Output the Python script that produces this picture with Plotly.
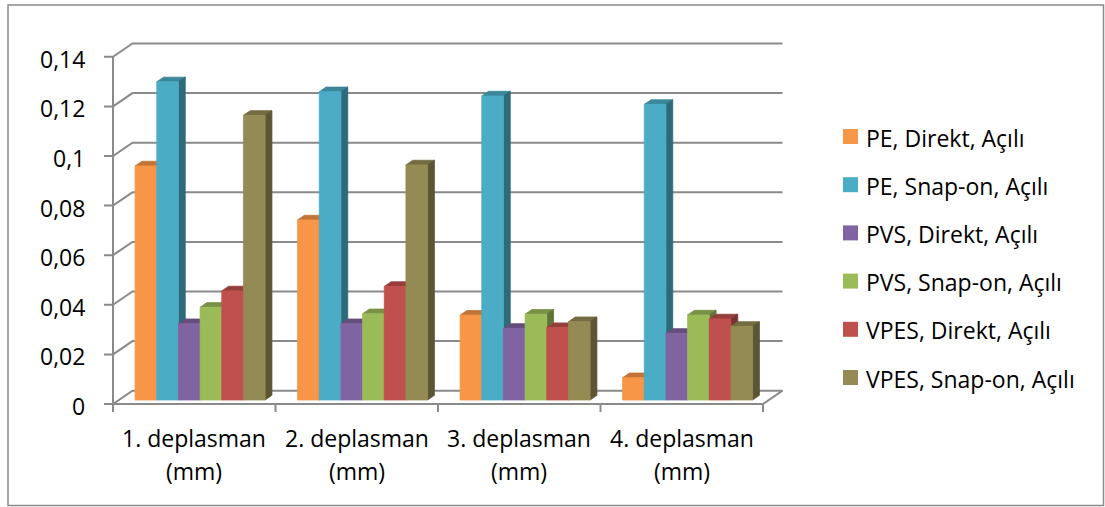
import plotly.graph_objects as go

# ---- data -------------------------------------------------------------
categories = ["1. deplasman", "2. deplasman", "3. deplasman", "4. deplasman"]
category_units = "(mm)"

series_names = [
    "PE, Direkt, Açılı",
    "PE, Snap-on, Açılı",
    "PVS, Direkt, Açılı",
    "PVS, Snap-on, Açılı",
    "VPES, Direkt, Açılı",
    "VPES, Snap-on, Açılı",
]

pe_direkt = [0.0944, 0.0726, 0.0342, 0.0090]
pe_snap = [0.1283, 0.1243, 0.1226, 0.1192]
pvs_direkt = [0.0308, 0.0308, 0.0289, 0.0269]
pvs_snap = [0.0374, 0.0348, 0.0346, 0.0343]
vpes_direkt = [0.0440, 0.0458, 0.0292, 0.0327]
vpes_snap = [0.1148, 0.0948, 0.0316, 0.0297]

series_values = [pe_direkt, pe_snap, pvs_direkt, pvs_snap, vpes_direkt, vpes_snap]

tick_values = [0, 0.02, 0.04, 0.06, 0.08, 0.10, 0.12, 0.14]
tick_labels = ["0", "0,02", "0,04", "0,06", "0,08", "0,1", "0,12", "0,14"]

# ---- styling ----------------------------------------------------------
front_colors = ["#F79646", "#4BACC6", "#8064A2", "#9BBB59", "#C0504D", "#948A54"]
GRID = "#8A8A8A"
FONT = "Open Sans"
FS = 23

W, H = 1105, 507
# page geometry of the plot: front-left axis origin and scales
X0_PX, Y0_PX = 113.0, 404.0
PX_PER_CAT = 162.5
PX_PER_VAL = 2480.0
# oblique depth offset (full depth of the floor)
DX = 19.5 / PX_PER_CAT
DY = 13.3 / PX_PER_VAL
# bar depth slab (fraction of the full depth) and gap width 150 %
D_FRONT, D_BACK = 0.30, 0.65
N_SER = len(series_values)
BAR_W = 1.0 / (N_SER + 1.5)
GAP = 0.75 * BAR_W


def px_x(p):
    return (p - X0_PX) / PX_PER_CAT


def px_y(p):
    return (Y0_PX - p) / PX_PER_VAL


def shade(hex_color, f):
    h = hex_color.lstrip("#")
    r, g, b = (int(h[i:i + 2], 16) for i in (0, 2, 4))
    return "#%02X%02X%02X" % (int(r * f), int(g * f), int(b * f))


fig = go.Figure()

# ---- walls: side-wall diagonals, back-wall gridlines, axis ticks ------
gx, gy = [], []
n_cat = len(categories)
for v in tick_values:
    gx += [-9 / PX_PER_CAT, 0, DX, n_cat + DX, None]
    gy += [v, v, v + DY, v + DY, None]
# front value axis line
gx += [0, 0, None]
gy += [0, tick_values[-1], None]
# floor front edge and right edge
gx += [0, n_cat, n_cat + DX, None]
gy += [0, 0, DY, None]
# category tick marks
for k in range(n_cat + 1):
    gx += [k, k, None]
    gy += [0, -8 / PX_PER_VAL, None]
fig.add_trace(go.Scatter(x=gx, y=gy, mode="lines",
                         line=dict(color=GRID, width=2),
                         hoverinfo="skip", showlegend=False))

# ---- 3D columns ------------------------------------------------------
for j, vals in enumerate(series_values):
    col = front_colors[j]
    tx, ty, sx, sy, fx, fy = [], [], [], [], [], []
    for i, v in enumerate(vals):
        left = i + GAP + j * BAR_W
        right = left + BAR_W
        lf, rf = left + D_FRONT * DX, right + D_FRONT * DX
        lb, rb = left + D_BACK * DX, right + D_BACK * DX
        bf, bb = D_FRONT * DY, D_BACK * DY
        # top face
        tx += [lf, rf, rb, lb, lf, None]
        ty += [v + bf, v + bf, v + bb, v + bb, v + bf, None]
        # right side face
        sx += [rf, rb, rb, rf, rf, None]
        sy += [bf, bb, v + bb, v + bf, bf, None]
        # front face
        fx += [lf, rf, rf, lf, lf, None]
        fy += [bf, bf, v + bf, v + bf, bf, None]
    for xs, ys, c in ((tx, ty, shade(col, 0.78)),
                      (sx, sy, shade(col, 0.62)),
                      (fx, fy, col)):
        fig.add_trace(go.Scatter(x=xs, y=ys, mode="lines", fill="toself",
                                 fillcolor=c, line=dict(color=c, width=0.8),
                                 hoverinfo="skip", showlegend=False))

# ---- text: value ticks, categories, legend ---------------------------
ann = []
for v, t in zip(tick_values, tick_labels):
    ann.append(dict(x=px_x(87), y=v - 2 / PX_PER_VAL, text=t, showarrow=False,
                    xanchor="right", yanchor="middle"))
for k, name in enumerate(categories):
    ann.append(dict(x=k + 0.5, y=px_y(438), text=name, showarrow=False,
                    xanchor="center", yanchor="middle"))
    ann.append(dict(x=k + 0.5, y=px_y(471), text=category_units, showarrow=False,
                    xanchor="center", yanchor="middle"))

shapes = []
for k, name in enumerate(series_names):
    yc = 136.5 + 48.2 * k
    shapes.append(dict(type="rect", xref="x", yref="y",
                       x0=px_x(843), x1=px_x(858),
                       y0=px_y(yc - 7.5), y1=px_y(yc + 7.5),
                       fillcolor=front_colors[k], line=dict(width=0)))
    ann.append(dict(x=px_x(864), y=px_y(yc + 1), text=name, showarrow=False,
                    xanchor="left", yanchor="middle"))

# chart border
shapes.append(dict(type="rect", xref="paper", yref="paper",
                   x0=8 / W, x1=1103.5 / W, y0=1 - 505.5 / H, y1=1 - 5 / H,
                   line=dict(color="#8A8A8A", width=1.5), fillcolor="rgba(0,0,0,0)"))

fig.update_layout(
    width=W, height=H,
    margin=dict(l=0, r=0, t=0, b=0),
    paper_bgcolor="white", plot_bgcolor="white",
    font=dict(family=FONT, size=FS, color="#000000"),
    showlegend=False,
    annotations=ann, shapes=shapes,
    xaxis=dict(range=[px_x(0), px_x(W)], visible=False, fixedrange=True),
    yaxis=dict(range=[px_y(H), px_y(0)], visible=False, fixedrange=True),
)

fig.write_html("out.html")
